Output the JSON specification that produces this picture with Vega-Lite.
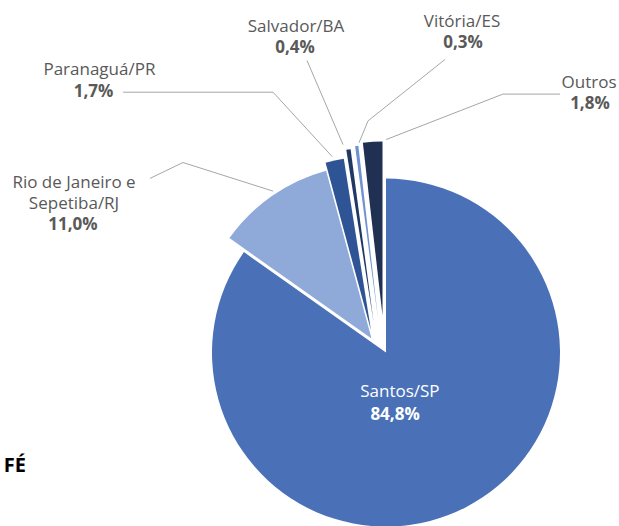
{
  "$schema": "https://vega.github.io/schema/vega-lite/v6.json",
  "width": 619,
  "height": 526,
  "autosize": {"type": "fit", "contains": "padding"},
  "padding": 0,
  "background": "white",
  "config": {
    "view": {"stroke": null},
    "locale": {"number": {"decimal": ",", "thousands": ".", "grouping": [3], "currency": ["R$", ""]}},
    "text": {"font": "Open Sans"}
  },
  "datasets": {
    "shares": [
      {"port": "Santos/SP", "share": 0.848, "ord": 1},
      {"port": "Rio de Janeiro e\nSepetiba/RJ", "share": 0.110, "ord": 2},
      {"port": "Paranaguá/PR", "share": 0.017, "ord": 3},
      {"port": "Salvador/BA", "share": 0.004, "ord": 4},
      {"port": "Vitória/ES", "share": 0.003, "ord": 5},
      {"port": "Outros", "share": 0.018, "ord": 6}
    ],
    "labels": [
      {"port": "Santos/SP", "nx": 0.080, "ny": -0.230, "px": 0.052, "py": -0.362},
      {"port": "Rio de Janeiro e\nSepetiba/RJ", "nx": -1.793, "ny": 0.983, "px": -1.799, "py": 0.741},
      {"port": "Paranaguá/PR", "nx": -1.647, "ny": 1.638, "px": -1.681, "py": 1.511},
      {"port": "Salvador/BA", "nx": -0.517, "ny": 1.891, "px": -0.523, "py": 1.770},
      {"port": "Vitória/ES", "nx": 0.437, "ny": 1.920, "px": 0.443, "py": 1.799},
      {"port": "Outros", "nx": 1.167, "ny": 1.563, "px": 1.172, "py": 1.443}
    ],
    "leaders": [
      {"port": "Salvador/BA", "seq": 1, "lx": -0.454, "ly": 1.695},
      {"port": "Salvador/BA", "seq": 2, "lx": -0.247, "ly": 1.207},
      {"port": "Vitória/ES", "seq": 1, "lx": 0.339, "ly": 1.701},
      {"port": "Vitória/ES", "seq": 2, "lx": -0.103, "ly": 1.345},
      {"port": "Vitória/ES", "seq": 3, "lx": -0.155, "ly": 1.218},
      {"port": "Paranaguá/PR", "seq": 1, "lx": -1.511, "ly": 1.511},
      {"port": "Paranaguá/PR", "seq": 2, "lx": -0.649, "ly": 1.511},
      {"port": "Paranaguá/PR", "seq": 3, "lx": -0.310, "ly": 1.138},
      {"port": "Outros", "seq": 1, "lx": 1.000, "ly": 1.500},
      {"port": "Outros", "seq": 2, "lx": 0.672, "ly": 1.500},
      {"port": "Outros", "seq": 3, "lx": 0.000, "ly": 1.236},
      {"port": "Rio", "seq": 1, "lx": -1.356, "ly": 1.011},
      {"port": "Rio", "seq": 2, "lx": -1.167, "ly": 1.103},
      {"port": "Rio", "seq": 3, "lx": -0.649, "ly": 0.937}
    ],
    "notes": [
      {"note": "FÉ", "tx": -2.069, "ty": -0.655}
    ]
  },
  "resolve": {"scale": {"color": "independent"}},
  "layer": [
    {
      "data": {"name": "shares"},
      "mark": {
        "type": "arc",
        "outerRadius": 174,
        "xOffset": {"expr": "datum.ord == 2 ? -14.5 : datum.ord == 3 ? -15 : datum.ord == 4 ? -12.5 : datum.ord == 5 ? -8 : datum.ord == 6 ? -3.5 : 0"},
        "yOffset": {"expr": "datum.ord == 2 ? -14 : datum.ord == 3 ? -22 : datum.ord == 4 ? -31 : datum.ord == 5 ? -34 : datum.ord == 6 ? -37 : 0"}
      },
      "encoding": {
        "x": {"datum": 0, "type": "quantitative", "scale": {"domain": [-2.2184, 1.3391], "nice": false, "zero": false}, "axis": null},
        "y": {"datum": 0, "type": "quantitative", "scale": {"domain": [-0.977, 2.046], "nice": false, "zero": false}, "axis": null},
        "theta": {"field": "share", "type": "quantitative", "stack": true},
        "order": {"field": "ord", "type": "quantitative"},
        "color": {
          "field": "port",
          "type": "nominal",
          "legend": null,
          "scale": {
            "domain": ["Santos/SP", "Rio de Janeiro e\nSepetiba/RJ", "Paranaguá/PR", "Salvador/BA", "Vitória/ES", "Outros"],
            "range": ["#4a71b7", "#8fa9d9", "#2f5496", "#1f3864", "#6f92d2", "#1f3053"]
          }
        }
      }
    },
    {
      "data": {"name": "leaders"},
      "mark": {"type": "line", "stroke": "#a6a6a6", "strokeWidth": 1},
      "encoding": {
        "x": {"field": "lx", "type": "quantitative"},
        "y": {"field": "ly", "type": "quantitative"},
        "detail": {"field": "port"},
        "order": {"field": "seq", "type": "quantitative"}
      }
    },
    {
      "data": {"name": "labels"},
      "mark": {"type": "text", "fontSize": 17, "lineBreak": "\n", "lineHeight": 21, "align": "center", "baseline": "middle"},
      "encoding": {
        "x": {"field": "nx", "type": "quantitative"},
        "y": {"field": "ny", "type": "quantitative"},
        "text": {"field": "port"},
        "color": {"condition": {"test": "datum.port === 'Santos/SP'", "value": "#ffffff"}, "value": "#595959"}
      }
    },
    {
      "data": {"name": "labels"},
      "transform": [
        {"lookup": "port", "from": {"data": {"name": "shares"}, "key": "port", "fields": ["share"]}}
      ],
      "mark": {"type": "text", "fontSize": 17, "fontWeight": "bold", "align": "center", "baseline": "middle"},
      "encoding": {
        "x": {"field": "px", "type": "quantitative"},
        "y": {"field": "py", "type": "quantitative"},
        "text": {"field": "share", "type": "quantitative", "format": ".1%"},
        "color": {"condition": {"test": "datum.port === 'Santos/SP'", "value": "#ffffff"}, "value": "#595959"}
      }
    },
    {
      "data": {"name": "notes"},
      "mark": {"type": "text", "fontSize": 20, "fontWeight": "bold", "align": "right", "baseline": "middle", "color": "#000000"},
      "encoding": {
        "x": {"field": "tx", "type": "quantitative"},
        "y": {"field": "ty", "type": "quantitative"},
        "text": {"field": "note"}
      }
    }
  ]
}
